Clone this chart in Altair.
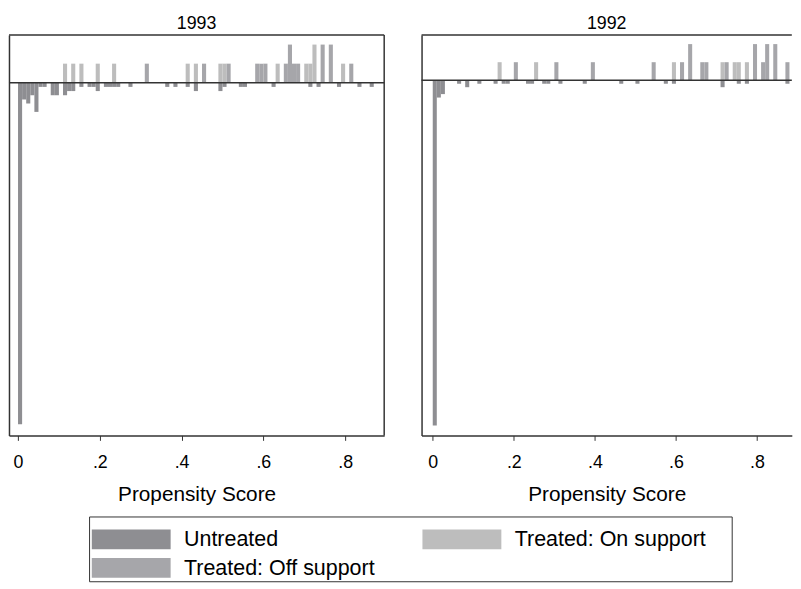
import altair as alt
import pandas as pd

FONT = "Liberation Sans"
BIN = 0.01
CATS = ["Untreated", "Treated: On support", "Treated: Off support"]
COLORS = ["#8e8e92", "#bdbdbd", "#a6a6aa"]
# legend fills column by column: Untreated / Off support in column 1, On support in column 2
LEGEND_ORDER = ["Untreated", "Treated: Off support", "Treated: On support"]
TICKS = [0, 0.2, 0.4, 0.6, 0.8]
TITLES = ["1993", "1992"]

# ---- 1993 panel (bin start, count) ----
l_untr_bins = [0.00, 0.01, 0.02, 0.03, 0.04, 0.05, 0.06, 0.08, 0.09, 0.11, 0.12, 0.13,
               0.15, 0.17, 0.18, 0.19, 0.21, 0.22, 0.23, 0.24, 0.27, 0.36, 0.38, 0.41,
               0.43, 0.49, 0.50, 0.54, 0.55, 0.62, 0.71, 0.73, 0.78, 0.83, 0.86]
l_untr_counts = [82, 4, 5, 3, 7, 1, 1, 3, 3, 3, 2, 2,
                 1, 1, 1, 2, 1, 1, 1, 1, 1, 1, 1, 1,
                 2, 2, 1, 1, 1, 1, 1, 1, 1, 1, 1]
l_on_bins = [0.11, 0.13, 0.15, 0.19, 0.23, 0.41, 0.43, 0.49, 0.50, 0.63, 0.70, 0.71, 0.72, 0.79]
l_on_counts = [1, 1, 1, 1, 1, 1, 1, 1, 1, 1, 1, 1, 2, 1]
l_off_bins = [0.31, 0.45, 0.51, 0.58, 0.59, 0.60, 0.65, 0.66, 0.67, 0.68, 0.74, 0.76, 0.81]
l_off_counts = [1, 1, 1, 1, 1, 1, 1, 2, 1, 1, 2, 2, 1]

# ---- 1992 panel ----
r_untr_bins = [0.00, 0.01, 0.02, 0.06, 0.08, 0.11, 0.15, 0.17, 0.18, 0.23, 0.24, 0.27,
               0.28, 0.31, 0.37, 0.46, 0.50, 0.57, 0.59, 0.71, 0.75, 0.77, 0.87]
r_untr_counts = [100, 5, 4, 1, 2, 1, 1, 1, 1, 1, 1, 1,
                 1, 1, 1, 1, 1, 1, 1, 2, 1, 1, 1]
r_on_bins = [0.16, 0.25, 0.59, 0.71, 0.74, 0.75, 0.77]
r_on_counts = [1, 1, 1, 1, 1, 1, 1]
r_off_bins = [0.20, 0.30, 0.39, 0.54, 0.61, 0.63, 0.66, 0.67, 0.72, 0.79, 0.81, 0.82, 0.84, 0.87]
r_off_counts = [1, 1, 1, 1, 1, 2, 1, 1, 1, 2, 1, 2, 2, 1]


def build(ub, uc, ob, oc, fb, fc):
    n_t = sum(oc) + sum(fc)
    n_u = sum(uc)
    rows = []
    for b, c in zip(ub, uc):
        rows.append({"x0": b, "x1": b + BIN, "h": -c / n_u, "base": 0, "group": CATS[0]})
    for b, c in zip(ob, oc):
        rows.append({"x0": b, "x1": b + BIN, "h": c / n_t, "base": 0, "group": CATS[1]})
    for b, c in zip(fb, fc):
        rows.append({"x0": b, "x1": b + BIN, "h": c / n_t, "base": 0, "group": CATS[2]})
    return pd.DataFrame(rows)


LEGEND = alt.Legend(
    title=None, orient="none", legendX=83.5, legendY=499, columns=2, values=LEGEND_ORDER,
    symbolType="M-1,-0.25H1V0.25H-1Z", symbolSize=6400, symbolStrokeWidth=0,
    symbolOpacity=1, clipHeight=22, labelFontSize=21.7, labelFont=FONT, labelLimit=400,
    labelColor="black", labelOffset=13.5, columnPadding=47.5, rowPadding=6, padding=0,
)

LINE = "#333333"
H = 405


def panel(df, title, width, xdom, ydom, right_frame, with_box):
    xaxis = alt.Axis(
        values=TICKS, labelExpr="datum.value == 0 ? '0' : replace(format(datum.value, '.1f'), '0.', '.')",
        title="Propensity Score", titleFontSize=21, titleFontWeight="normal", titleFont=FONT,
        titleColor="black", titlePadding=13, labelFontSize=18, labelFont=FONT, labelColor="black",
        labelPadding=13, tickSize=5, tickColor=LINE, tickWidth=1, domainColor=LINE, domainWidth=1.5,
        grid=False, labelFlush=False, labelOverlap=False,
    )
    yaxis = alt.Axis(labels=False, ticks=False, grid=False, title=None, domain=True,
                     domainColor=LINE, domainWidth=1.5)
    bars = alt.Chart(df).mark_rect().encode(
        x=alt.X("x0:Q", scale=alt.Scale(domain=xdom, nice=False, zero=False), axis=xaxis),
        x2="x1:Q",
        y=alt.Y("h:Q", scale=alt.Scale(domain=ydom, nice=False, zero=False), axis=yaxis),
        y2="base:Q",
        color=alt.Color("group:N", sort=LEGEND_ORDER,
                        scale=alt.Scale(domain=CATS, range=COLORS), legend=LEGEND),
    )
    tiny = pd.DataFrame({"v": [0]})
    layers = [bars]
    layers.append(alt.Chart(tiny).mark_rule(color=LINE, strokeWidth=1.5).encode(y="v:Q"))
    layers.append(alt.Chart(tiny).mark_rule(color=LINE, strokeWidth=1.5).encode(y=alt.value(0)))
    layers.append(alt.Chart(tiny).mark_text(fontSize=18, font=FONT, color="black",
                                            baseline="middle", align="center").encode(
        x=alt.value(width / 2), y=alt.value(-11.2), text=alt.value(title)))
    if right_frame:
        layers.append(alt.Chart(tiny).mark_rule(color=LINE, strokeWidth=1.5).encode(x=alt.value(width)))
    if with_box:
        layers.append(alt.Chart(tiny).mark_rect(fillOpacity=0, stroke=LINE, strokeWidth=1).encode(
            x=alt.value(81.5), x2=alt.value(731.5), y=alt.value(487.5), y2=alt.value(553)))
    return alt.layer(*layers).properties(width=width, height=H)


left = panel(build(l_untr_bins, l_untr_counts, l_on_bins, l_on_counts, l_off_bins, l_off_counts),
             TITLES[0], 379.5, [-0.0221, 0.8955], [-0.5962, 0.0807], True, True)
right = panel(build(r_untr_bins, r_untr_counts, r_on_bins, r_on_counts, r_off_bins, r_off_counts),
              TITLES[1], 374.5, [-0.0276, 0.8858], [-0.785, 0.1001], False, False)

chart = alt.hconcat(left, right, spacing=37.3, bounds="flush").properties(
    padding={"left": 0, "top": 3, "right": 0, "bottom": 0}
).configure_view(stroke=None)

chart.save("out.html", embed_options={"renderer": "svg", "actions": False})
